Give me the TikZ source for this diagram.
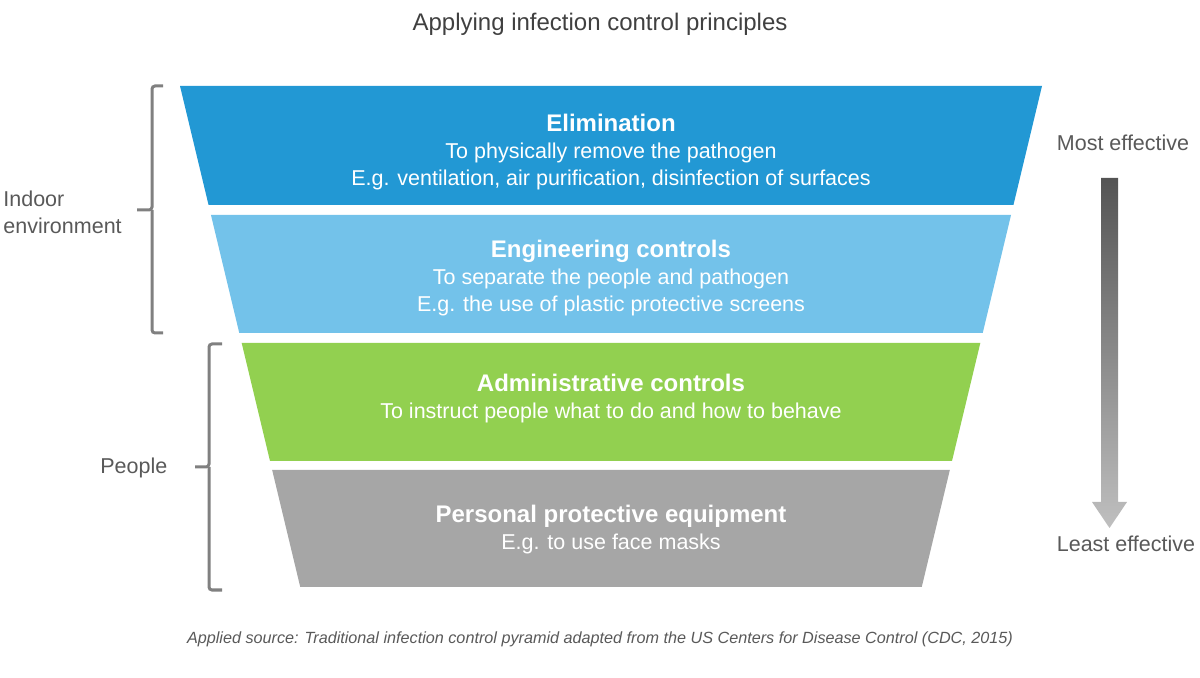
\documentclass[tikz,border=0pt]{standalone}
\usepackage{fontspec}
\setmainfont{Liberation Sans}
\usepackage{xcolor}
\definecolor{elimblue}{RGB}{34,152,212}
\definecolor{engblue}{RGB}{115,194,234}
\definecolor{admgreen}{RGB}{146,208,80}
\definecolor{ppegrey}{RGB}{166,166,166}
\definecolor{txtgrey}{RGB}{89,89,89}
\definecolor{titlegrey}{RGB}{64,64,64}
\definecolor{bracegrey}{RGB}{128,128,128}
\usetikzlibrary{positioning}
% one layer of the inverted pyramid: top y, bottom y, colour
\newcommand{\band}[3]{\fill[#3] ({180+0.24*(#1-86)},#1) -- ({1042-0.24*(#1-86)},#1) -- ({1042-0.24*(#2-86)},#2) -- ({180+0.24*(#2-86)},#2) -- cycle}

\begin{document}
\begin{tikzpicture}[
      x=0.5pt,y=-0.5pt,
      bandtext/.style={text=white,align=center,font=\fontsize{10.75}{13.5}\selectfont},
      sidelabel/.style={text=txtgrey,font=\fontsize{10.75}{13.5}\selectfont},
      brace/.style={draw=bracegrey,line width=1.5pt,rounded corners=1.5pt}]
      \useasboundingbox (0,0) rectangle (1200,678);

      % Title
      \node[text=titlegrey,font=\fontsize{12}{14}\selectfont] (title) at (600,24) {Applying infection control principles};

      % Layers
      \band{86}{205}{elimblue};
      \band{215}{333}{engblue};
      \band{343}{461}{admgreen};
      \band{470}{587}{ppegrey};

      \node[bandtext] (elim) at (611,152) {{\fontsize{12}{14}\selectfont\bfseries Elimination}\\To physically remove the pathogen\\E.g. ventilation, air purification, disinfection of surfaces};
      \node[bandtext] (engin) at (611,278.5) {{\fontsize{12}{14}\selectfont\bfseries Engineering controls}\\To separate the people and pathogen\\E.g. the use of plastic protective screens};
      \node[bandtext] (admin) at (611,399) {{\fontsize{12}{14}\selectfont\bfseries Administrative controls}\\To instruct people what to do and how to behave};
      \node[bandtext] (ppe) at (611,529.5) {{\fontsize{12}{14}\selectfont\bfseries Personal protective equipment}\\E.g. to use face masks};

      % Braces on the left
      \draw[brace] (163,86) -| (152,210) -- (137,210);
      \draw[brace] (152,210) |- (163,333);
      \draw[brace] (222,344) -| (209,467) -- (195,467);
      \draw[brace] (209,467) |- (222,590);
      \node[sidelabel,align=left,anchor=west,inner sep=0pt] (indoor) at (3,212) {Indoor\\environment};
      \node[sidelabel,anchor=west,inner sep=0pt] (people) at (100,468) {People};

      % Effectiveness arrow
      \node[sidelabel] (most) at (1123,143) {Most effective};
      \node[sidelabel] (least) at (1126,544) {Least effective};
      \shade[top color=black!67,bottom color=black!25] (1101,178) -- (1118,178) -- (1118,502) -- (1127,502) -- (1109.5,528) -- (1092,502) -- (1101,502) -- cycle;

      % Source
      \node[text=txtgrey,font=\fontsize{8.1}{10}\selectfont\itshape] (source) at (600,639) {Applied source: Traditional infection control pyramid adapted from the US Centers for Disease Control (CDC, 2015)};
\end{tikzpicture}
\end{document}
